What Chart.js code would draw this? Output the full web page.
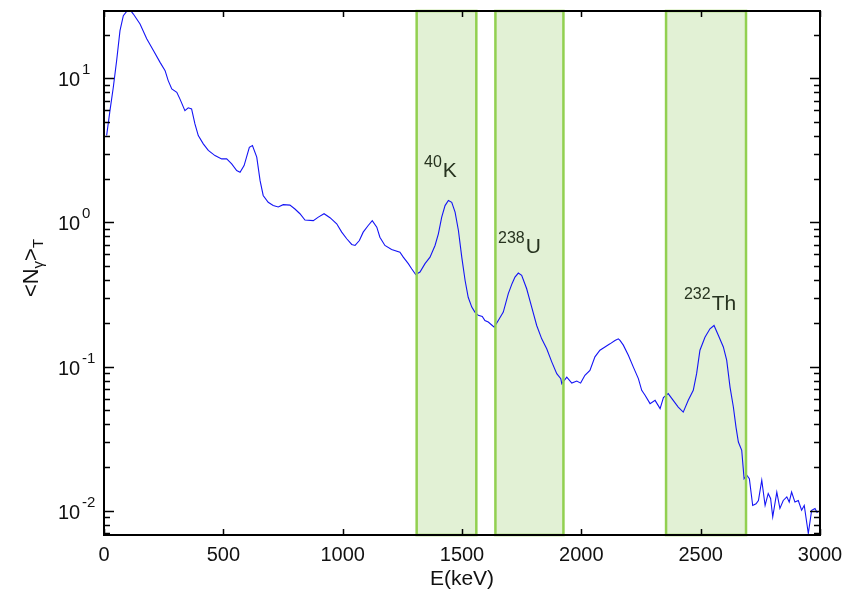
<!DOCTYPE html>
<html lang="en">
<head>
  <meta charset="UTF-8" />
  <title>Gamma spectrum</title>
  <script src="https://cdn.jsdelivr.net/npm/chart.js@4.4.0/dist/chart.umd.min.js"></script>
  <style>
    html, body { margin: 0; padding: 0; background: #fff; }
  </style>
</head>
<body>
  <canvas id="spec" width="844" height="592"></canvas>

  <script>
    // spectrum: energy (keV) and <N_gamma>_T
    const energy = [
      11, 25, 39, 53, 67, 81, 95, 108, 123, 151,
      179, 207, 235, 256, 269, 284, 305, 318, 339, 353,
      367, 381, 395, 416, 437, 465, 493, 514, 535, 556,
      570, 587, 609, 622, 640, 654, 667, 688, 709, 730,
      751, 779, 800, 821, 842, 877, 898, 922, 947, 975,
      996, 1017, 1038, 1052, 1070, 1086, 1107, 1124, 1143, 1156,
      1177, 1205, 1240, 1254, 1275, 1289, 1306, 1324, 1345, 1366,
      1387, 1401, 1415, 1429, 1443, 1457, 1471, 1485, 1499, 1513,
      1526, 1541, 1554, 1568, 1585, 1596, 1610, 1627, 1635, 1652,
      1673, 1694, 1710, 1722, 1736, 1750, 1771, 1792, 1813, 1834,
      1855, 1876, 1897, 1914, 1918, 1939, 1960, 1981, 1997, 2015,
      2036, 2057, 2078, 2099, 2120, 2141, 2155, 2162, 2176, 2197,
      2218, 2239, 2253, 2267, 2288, 2309, 2330, 2344, 2364, 2385,
      2406, 2427, 2448, 2469, 2483, 2497, 2518, 2539, 2556, 2574,
      2595, 2609, 2623, 2637, 2648, 2658, 2672, 2682, 2693, 2704,
      2718, 2732, 2742, 2756, 2770, 2783, 2793, 2802, 2819, 2832,
      2846, 2861, 2871, 2881, 2895, 2909, 2923, 2934, 2951, 2965,
      2979, 2989
    ];
    const counts = [
      4.01, 5.97, 8.67, 13.3, 21.4, 27.2, 29.1, 30, 27.9, 23.8,
      18.8, 15.6, 12.9, 11.3, 9.64, 8.45, 8.0, 7.2, 5.97, 6.24,
      6.14, 4.83, 4.01, 3.51, 3.16, 2.91, 2.76, 2.76, 2.55, 2.29,
      2.23, 2.48, 3.32, 3.42, 2.84, 1.95, 1.54, 1.38, 1.31, 1.28,
      1.33, 1.32, 1.24, 1.15, 1.04, 1.03, 1.09, 1.15, 1.08, 0.98,
      0.857, 0.771, 0.704, 0.693, 0.750, 0.857, 0.953, 1.03, 0.928, 0.791,
      0.693, 0.650, 0.622, 0.575, 0.518, 0.478, 0.436, 0.453, 0.518, 0.575,
      0.693, 0.835, 1.09, 1.31, 1.42, 1.38, 1.18, 0.88, 0.575, 0.396,
      0.303, 0.259, 0.239, 0.227, 0.223, 0.209, 0.204, 0.193, 0.188, 0.209,
      0.239, 0.321, 0.378, 0.418, 0.446, 0.430, 0.347, 0.259, 0.193, 0.156,
      0.133, 0.108, 0.0894, 0.0826, 0.0762, 0.0847, 0.0769, 0.0795, 0.0769, 0.0871,
      0.0942, 0.117, 0.130, 0.137, 0.144, 0.152, 0.156, 0.152, 0.141, 0.120,
      0.0993, 0.0826, 0.0685, 0.0633, 0.0554, 0.0584, 0.0512, 0.0610, 0.0650, 0.0584,
      0.0525, 0.0484, 0.0584, 0.0685, 0.0894, 0.130, 0.160, 0.183, 0.193, 0.165,
      0.137, 0.111, 0.0722, 0.0525, 0.0381, 0.030, 0.0263, 0.0167, 0.0177, 0.0167,
      0.0109, 0.0112, 0.0118, 0.0163, 0.0109, 0.0132, 0.0122, 0.00908, 0.0135, 0.0104,
      0.0118, 0.0125, 0.0115, 0.0135, 0.0115, 0.0118, 0.0101, 0.0109, 0.00697, 0.0101,
      0.0104, 0.00966
    ];

    // energy windows (keV) and their labels
    const windowLo = [1310, 1640, 2355];
    const windowHi = [1560, 1925, 2690];
    const isoMass = ["40", "238", "232"];
    const isoName = ["K", "U", "Th"];
    const labelE = [1341, 1651, 2430];
    const labelN = [2.08, 0.61, 0.249];

    const xTicks = [0, 500, 1000, 1500, 2000, 2500, 3000];
    const yDecades = [0.01, 0.1, 1, 10];
    const yExps = ["-2", "-1", "0", "1"];

    const FONT = "'Liberation Sans', Arial, Helvetica, sans-serif";
    const TXT = "#111";

    function supText(ctx, x, y, sup, main, supSize, mainSize, color) {
      ctx.fillStyle = color;
      ctx.textAlign = "left";
      ctx.textBaseline = "alphabetic";
      ctx.font = supSize + "px " + FONT;
      ctx.fillText(sup, x, y - mainSize * 0.48);
      const w = ctx.measureText(sup).width;
      ctx.font = mainSize + "px " + FONT;
      ctx.fillText(main, x + w + 1, y);
    }

    const decor = {
      id: "decor",
      beforeDatasetsDraw(chart) {
        const { ctx, chartArea: a, scales: { x } } = chart;
        ctx.save();
        ctx.fillStyle = "#e2f1d5";
        windowLo.forEach((lo, i) => {
          const x0 = x.getPixelForValue(lo), x1 = x.getPixelForValue(windowHi[i]);
          ctx.fillRect(x0, a.top, x1 - x0, a.bottom - a.top);
        });
        ctx.restore();
      },
      afterDatasetsDraw(chart) {
        const { ctx, chartArea: a, scales: { x, y } } = chart;
        ctx.save();
        ctx.strokeStyle = "#92d050";
        ctx.lineWidth = 2.5;
        windowLo.forEach((lo, i) => {
          const x0 = x.getPixelForValue(lo), x1 = x.getPixelForValue(windowHi[i]);
          ctx.strokeRect(x0, a.top, x1 - x0, a.bottom - a.top);
        });
        isoMass.forEach((m, i) => {
          supText(ctx, x.getPixelForValue(labelE[i]), y.getPixelForValue(labelN[i]),
            m, isoName[i], 16, 21, "#27331f");
        });
        ctx.restore();
      },
      afterDraw(chart) {
        const { ctx, chartArea: a, scales: { x, y } } = chart;
        ctx.save();
        ctx.strokeStyle = "#000";
        ctx.lineWidth = 1.5;
        ctx.beginPath();
        // x ticks, bottom and top, pointing in
        xTicks.forEach(t => {
          const px = Math.round(x.getPixelForValue(t)) + 0.5;
          ctx.moveTo(px, a.bottom); ctx.lineTo(px, a.bottom - 6);
          ctx.moveTo(px, a.top); ctx.lineTo(px, a.top + 6);
        });
        // y log ticks, left and right
        for (let k = -3; k <= 1; k++) {
          for (let m = 1; m <= 9; m++) {
            const v = m * Math.pow(10, k);
            if (v < y.min || v > y.max) continue;
            const py = Math.round(y.getPixelForValue(v)) + 0.5;
            const len = m === 1 ? 10 : 6;
            ctx.moveTo(a.left, py); ctx.lineTo(a.left + len, py);
            ctx.moveTo(a.right, py); ctx.lineTo(a.right - len, py);
          }
        }
        ctx.stroke();
        ctx.lineWidth = 2;
        ctx.strokeRect(a.left, a.top, a.right - a.left, a.bottom - a.top);

        // y tick labels 10^k
        yDecades.forEach((v, i) => {
          const py = y.getPixelForValue(v);
          ctx.fillStyle = TXT;
          ctx.textAlign = "left";
          ctx.textBaseline = "alphabetic";
          ctx.font = "20px " + FONT;
          ctx.fillText("10", 58, py + 8);
          ctx.font = "15px " + FONT;
          ctx.fillText(yExps[i], 82, py - 4);
        });

        // y axis title <N_gamma>_T
        const parts = [["<N", 22, 0], ["\u03b3", 15, 5], [">", 22, 0], ["T", 15, 5]];
        ctx.translate(38, 268);
        ctx.rotate(-Math.PI / 2);
        let total = 0;
        parts.forEach(p => { ctx.font = p[1] + "px " + FONT; total += ctx.measureText(p[0]).width; });
        let tx = -total / 2;
        parts.forEach(p => {
          ctx.font = p[1] + "px " + FONT;
          ctx.fillText(p[0], tx, p[2]);
          tx += ctx.measureText(p[0]).width;
        });
        ctx.restore();
      }
    };

    const points = energy.map((e, i) => ({ x: e, y: counts[i] }));

    new Chart(document.getElementById("spec").getContext("2d"), {
      type: "line",
      data: {
        datasets: [{
          data: points,
          borderColor: "#1414f5",
          borderWidth: 1.1,
          pointRadius: 0,
          tension: 0,
          fill: false
        }]
      },
      options: {
        responsive: false,
        animation: false,
        layout: { padding: { top: 11, right: 24, left: 0, bottom: 0 } },
        plugins: { legend: { display: false }, tooltip: { enabled: false } },
        scales: {
          x: {
            type: "linear",
            min: 0,
            max: 3000,
            afterFit: s => { s.height = 57; s.paddingRight = 0; s.paddingLeft = 0; },
            afterBuildTicks: s => { s.ticks = xTicks.map(v => ({ value: v })); },
            grid: { display: false, drawTicks: false },
            border: { display: false },
            ticks: {
              font: { family: FONT, size: 20 }, color: TXT, padding: 8,
              maxRotation: 0, autoSkip: false,
              callback: v => String(v)
            },
            title: { display: true, text: "E(keV)", font: { family: FONT, size: 21 }, color: TXT, padding: { top: 0, bottom: 0 } }
          },
          y: {
            type: "logarithmic",
            min: 0.0068,
            max: 29.3,
            afterFit: s => { s.width = 104; },
            grid: { display: false, drawTicks: false },
            border: { display: false },
            ticks: { display: false }
          }
        }
      },
      plugins: [decor]
    });
  </script>
</body>
</html>
